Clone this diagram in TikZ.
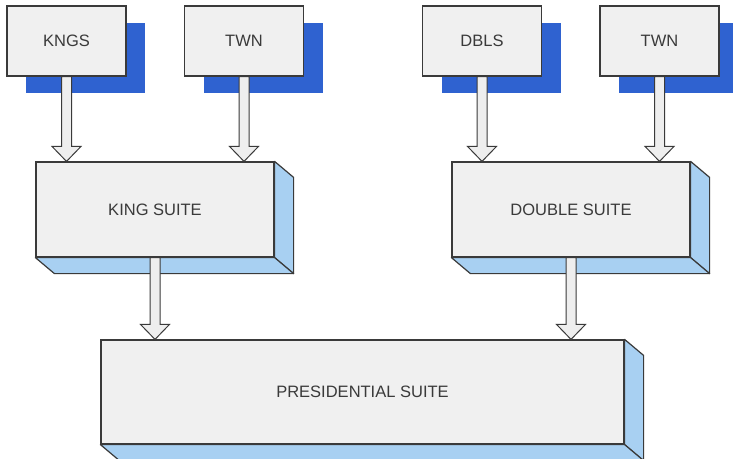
\documentclass[tikz,border=0pt]{standalone}
\usepackage{fontspec}
\setmainfont{Liberation Sans}
\usepackage{xcolor}
\definecolor{roomfill}{HTML}{F0F0F0}
\definecolor{roomedge}{HTML}{3A3A3A}
\definecolor{roomshadow}{HTML}{2F62D0}
\definecolor{roomdepth}{HTML}{A8D0F2}
\definecolor{flowfill}{HTML}{EEEEEE}
\usetikzlibrary{shadows,calc}
\newcommand\roomfont{\fontsize{16.5}{19}\selectfont}
\tikzset{
  roombox/.style={draw=roomedge,line width=1.2pt,fill=roomfill,minimum width=119pt,minimum height=70pt,inner sep=0pt,font=\roomfont,text=roomedge,
    drop shadow={shadow xshift=19pt,shadow yshift=-17pt,fill=roomshadow,opacity=1}},
  suitebox/.style={draw=roomedge,line width=1.2pt,fill=roomfill,inner sep=0pt,font=\roomfont,text=roomedge},
  depthface/.style={draw=roomedge,line width=1.2pt,fill=roomdepth,line join=round},
  flowbody/.style={draw=roomedge,line width=1pt,fill=flowfill,line join=miter},
}
% hollow block arrow from one node straight down to the top of another
\newcommand\flowarrow[2]{%
  \filldraw[flowbody] let \p1=(#1), \p2=(#2) in
    (\x1-5pt,\y1) -- (\x1-5pt,\y2+15pt) -- (\x1-14.5pt,\y2+15pt) -- (\x1,\y2)
    -- (\x1+14.5pt,\y2+15pt) -- (\x1+5pt,\y2+15pt) -- (\x1+5pt,\y1) -- cycle;}

\begin{document}
\begin{tikzpicture}[x=1pt,y=-1pt]
\useasboundingbox (0,0) rectangle (733,458);

% room types
\node[roombox] (kngs) at (66.5,41) {KNGS};
\node[roombox] (twna) at (244,41) {TWN};
\node[roombox] (dbls) at (482,41) {DBLS};
\node[roombox] (twnb) at (659.5,41) {TWN};

% suites
\node[suitebox,minimum width=238pt,minimum height=95pt] (ks) at (155,209.5) {KING SUITE};
\node[suitebox,minimum width=238pt,minimum height=95pt] (ds) at (571,209.5) {DOUBLE SUITE};
\node[suitebox,minimum width=523pt,minimum height=104pt] (ps) at (362.5,392) {PRESIDENTIAL SUITE};

% side and bottom faces
\foreach \s in {ks,ds,ps}{
  \filldraw[depthface] (\s.north east) -- ++(19,16) -- ($(\s.south east)+(19,16)$) -- (\s.south east) -- cycle;
  \filldraw[depthface] (\s.south west) -- ++(19,16) -- ($(\s.south east)+(19,16)$) -- (\s.south east) -- cycle;
}

% flows
\flowarrow{kngs.south}{ks.north}
\flowarrow{twna.south}{ks.north}
\flowarrow{dbls.south}{ds.north}
\flowarrow{twnb.south}{ds.north}
\flowarrow{ks.south}{ps.north}
\flowarrow{ds.south}{ps.north}
\end{tikzpicture}
\end{document}
